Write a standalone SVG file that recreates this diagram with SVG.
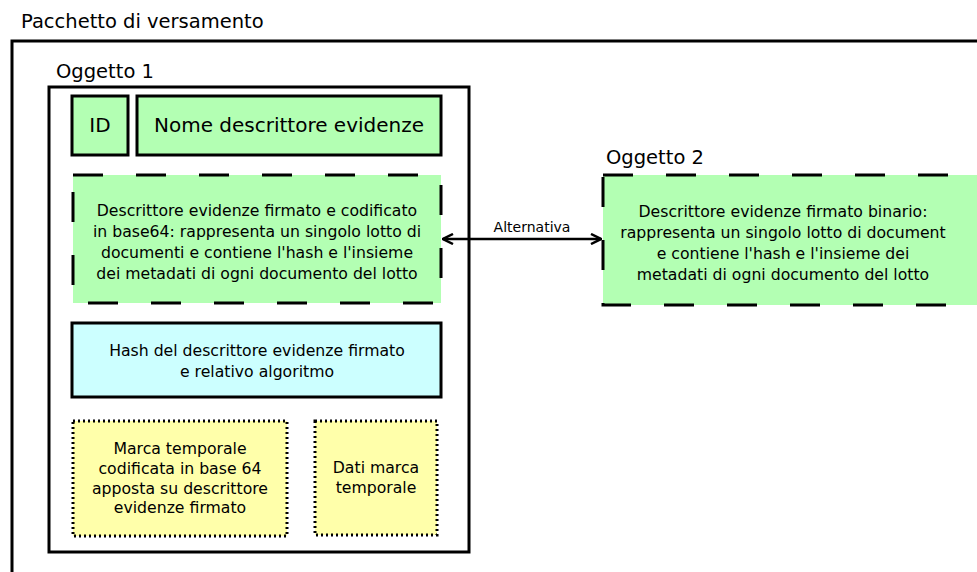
<svg xmlns="http://www.w3.org/2000/svg" width="977" height="572" viewBox="0 0 977 572">
<style>
text{font-family:"DejaVu Sans",sans-serif;fill:#000}
.lbl{font-size:19.5px}
.t{font-size:15.7px;text-anchor:middle}
.big{font-size:20px;text-anchor:middle}
.frame{fill:none;stroke:#000;stroke-width:3}
.green{fill:#b3ffb3}
.solid{stroke:#000;stroke-width:3}
.dash{stroke:#000;stroke-width:3;stroke-dasharray:30 33}
.dot{stroke:#000;stroke-width:3;stroke-dasharray:2 3}
</style>
<defs>
<marker id="arr" viewBox="0 0 12 12" refX="11" refY="6" markerWidth="12" markerHeight="12" markerUnits="userSpaceOnUse" orient="auto-start-reverse">
<path d="M1,1 L11,6 L1,11" fill="none" stroke="#000" stroke-width="2.5"/>
</marker>
</defs>
<rect width="977" height="572" fill="#fff"/>
<g id="pacchetto">
<text class="lbl" x="21" y="28">Pacchetto di versamento</text>
<path class="frame" d="M12,580 V41 H990"/>
</g>
<g id="oggetto1">
<text class="lbl" x="56" y="78">Oggetto 1</text>
<rect class="frame" x="49" y="87" width="420" height="465"/>
</g>
<g id="id">
<rect class="green solid" x="72" y="96" width="56" height="59"/>
<text class="big" x="100" y="132">ID</text>
</g>
<g id="nome">
<rect class="green solid" x="137" y="96" width="304" height="59"/>
<text class="big" x="289" y="132">Nome descrittore evidenze</text>
</g>
<g id="descrittore1">
<rect class="green dash" x="73" y="175" width="368" height="128"/>
<text class="t" x="257" y="216">Descrittore evidenze firmato e codificato</text>
<text class="t" x="257" y="237">in base64: rappresenta un singolo lotto di</text>
<text class="t" x="257" y="258">documenti e contiene l'hash e l'insieme</text>
<text class="t" x="257" y="279">dei metadati di ogni documento del lotto</text>
</g>
<g id="hash">
<rect fill="#ccffff" class="solid" x="72" y="323" width="369" height="74"/>
<text class="t" x="257" y="356">Hash del descrittore evidenze firmato</text>
<text class="t" x="257" y="377">e relativo algoritmo</text>
</g>
<g id="marca">
<rect fill="#ffffaa" class="dot" x="73" y="421" width="214" height="115"/>
<text class="t" x="180" y="454">Marca temporale</text>
<text class="t" x="180" y="474">codificata in base 64</text>
<text class="t" x="180" y="494">apposta su descrittore</text>
<text class="t" x="180" y="513">evidenze firmato</text>
</g>
<g id="dati">
<rect fill="#ffffaa" class="dot" x="315" y="421" width="122" height="114"/>
<text class="t" x="376" y="473">Dati marca</text>
<text class="t" x="376" y="493">temporale</text>
</g>
<g id="oggetto2">
<text class="lbl" x="606" y="164">Oggetto 2</text>
<rect class="green dash" x="603" y="175" width="390" height="130"/>
<text class="t" x="783" y="217">Descrittore evidenze firmato binario:</text>
<text class="t" x="783" y="238">rappresenta un singolo lotto di document</text>
<text class="t" x="783" y="259">e contiene l'hash e l'insieme dei</text>
<text class="t" x="783" y="280">metadati di ogni documento del lotto</text>
</g>
<g id="connectors">
<line x1="443" y1="239" x2="601" y2="239" stroke="#000" stroke-width="2.5" marker-start="url(#arr)" marker-end="url(#arr)"/>
<text x="532" y="232" style="font-size:14px;text-anchor:middle">Alternativa</text>
</g>
</svg>
